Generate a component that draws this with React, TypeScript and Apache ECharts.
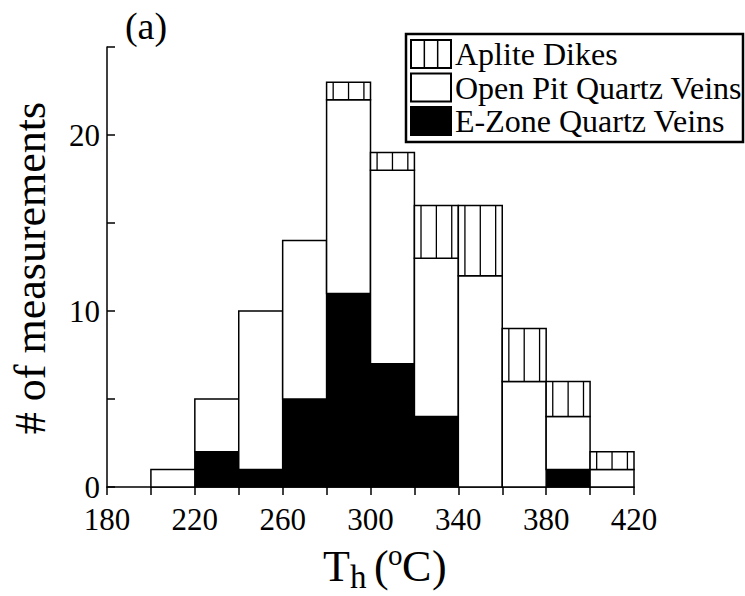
import React, { useEffect, useRef } from "react";
import * as echarts from "echarts";

// Histogram bins (lower edge, °C) and bin width
const binStart = [200, 220, 240, 260, 280, 300, 320, 340, 360, 380, 400];
const binWidth = 20;
// Counts per bin for each group (stacked bottom to top)
const eZone = [0, 2, 1, 5, 11, 7, 4, 0, 0, 1, 0];
const openPit = [1, 3, 9, 9, 11, 11, 9, 12, 6, 3, 1];
const aplite = [0, 0, 0, 0, 1, 1, 3, 4, 3, 2, 1];
// Tick labels
const xTickLabels = [180, 220, 260, 300, 340, 380, 420];
const yTickLabels = [0, 10, 20];
const seriesNames = ["Aplite Dikes", "Open Pit Quartz Veins", "E-Zone Quartz Veins"];

const FONT = "'Liberation Serif', 'Times New Roman', serif";

function buildStack(values: number[], bases: number[]) {
  return values.map((v, i) => [binStart[i], binStart[i] + binWidth, bases[i], bases[i] + v]);
}

export default function App() {
  const ref = useRef<HTMLDivElement>(null);

  useEffect(() => {
    if (!ref.current) return;
    const chart = echarts.init(ref.current, undefined, { renderer: "svg" });

    const zeros = binStart.map(() => 0);
    const base2 = eZone.map((v) => v);
    const base3 = eZone.map((v, i) => v + openPit[i]);
    const eData = buildStack(eZone, zeros);
    const oData = buildStack(openPit, base2);
    const aData = buildStack(aplite, base3);

    const makeRender = (kind: "black" | "white" | "hatch") => (params: any, api: any) => {
      const x0 = api.value(0), x1 = api.value(1), y0 = api.value(2), y1 = api.value(3);
      if (!(y1 > y0)) return { type: "group", children: [] };
      const p0 = api.coord([x0, y0]);
      const p1 = api.coord([x1, y1]);
      const w = p1[0] - p0[0];
      const h = p0[1] - p1[1];
      const children: any[] = [
        {
          type: "rect",
          shape: { x: p0[0], y: p1[1], width: w, height: h },
          style: { fill: kind === "black" ? "#000" : "#fff", stroke: "#000", lineWidth: 1.5 },
        },
      ];
      if (kind === "hatch") {
        [0.15, 0.5, 0.85].forEach((f) => {
          children.push({
            type: "line",
            shape: { x1: p0[0] + f * w, y1: p1[1], x2: p0[0] + f * w, y2: p0[1] },
            style: { stroke: "#000", lineWidth: 1.3 },
          });
        });
      }
      return { type: "group", children };
    };

    const legendRows = [
      { name: seriesNames[0], kind: "hatch" },
      { name: seriesNames[1], kind: "white" },
      { name: seriesNames[2], kind: "black" },
    ];
    const legendChildren: any[] = [
      { type: "rect", shape: { x: 406, y: 34, width: 337, height: 108 }, style: { fill: "#fff", stroke: "#000", lineWidth: 2.5 } },
    ];
    legendRows.forEach((r, i) => {
      const y = 40 + i * 33.5;
      legendChildren.push({
        type: "rect",
        shape: { x: 411, y, width: 40, height: 28 },
        style: { fill: r.kind === "black" ? "#000" : "#fff", stroke: "#000", lineWidth: 2 },
      });
      if (r.kind === "hatch") {
        [1 / 3, 2 / 3].forEach((f) => {
          legendChildren.push({
            type: "line",
            shape: { x1: 411 + 40 * f, y1: y, x2: 411 + 40 * f, y2: y + 28 },
            style: { stroke: "#000", lineWidth: 1.5 },
          });
        });
      }
      legendChildren.push({
        type: "text",
        x: 455,
        y: y + 14,
        style: { text: r.name, font: `32px ${FONT}`, fill: "#000", align: "left", verticalAlign: "middle" },
      });
    });

    const txt = (text: string, x: number, y: number, size: number) => ({
      type: "text",
      x,
      y,
      style: { text, font: `${size}px ${FONT}`, fill: "#000", align: "left", verticalAlign: "middle" },
    });

    chart.setOption({
      animation: false,
      backgroundColor: "#fff",
      grid: { left: 107, right: 111, top: 47, bottom: 109, containLabel: false },
      xAxis: {
        type: "value",
        min: 180,
        max: 420,
        interval: 20,
        axisLine: { show: true, lineStyle: { color: "#000", width: 1.5 } },
        axisTick: { show: true, inside: false, length: 8, lineStyle: { color: "#000", width: 1.5 } },
        axisLabel: {
          show: true,
          margin: 19,
          lineHeight: 26,
          color: "#000",
          fontFamily: FONT,
          fontSize: 31,
          formatter: (v: number) => (xTickLabels.includes(v) ? String(v) : ""),
        },
        splitLine: { show: false },
      },
      yAxis: {
        type: "value",
        min: 0,
        max: 25,
        interval: 5,
        axisLine: { show: true, lineStyle: { color: "#000", width: 1.5 } },
        axisTick: { show: true, inside: true, length: 8, lineStyle: { color: "#000", width: 1.5 } },
        axisLabel: {
          show: true,
          margin: 7,
          lineHeight: 24,
          padding: [0, 0, 6, 0],
          color: "#000",
          fontFamily: FONT,
          fontSize: 31,
          formatter: (v: number) => (yTickLabels.includes(v) ? String(v) : ""),
        },
        splitLine: { show: false },
      },
      series: [
        { type: "custom", name: seriesNames[2], renderItem: makeRender("black"), data: eData, encode: { x: [0, 1], y: [2, 3] } },
        { type: "custom", name: seriesNames[1], renderItem: makeRender("white"), data: oData, encode: { x: [0, 1], y: [2, 3] } },
        { type: "custom", name: seriesNames[0], renderItem: makeRender("hatch"), data: aData, encode: { x: [0, 1], y: [2, 3] } },
      ],
      graphic: [
        { type: "group", children: legendChildren },
        {
          type: "text",
          x: 146,
          y: 25.5,
          style: { text: "(a)", font: `38px ${FONT}`, fill: "#000", align: "center", verticalAlign: "middle" },
        },
        {
          type: "text",
          x: 30,
          y: 268,
          rotation: Math.PI / 2,
          style: { text: "# of measurements", font: `44px ${FONT}`, fill: "#000", align: "center", verticalAlign: "middle" },
        },
        {
          type: "group",
          children: [
            txt("T", 323, 566, 44),
            txt("h", 350, 577, 33),
            txt("(", 374, 566, 44),
            txt("o", 388, 555, 29),
            txt("C", 402, 566, 44),
            txt(")", 432, 566, 44),
          ],
        },
      ],
    });

    return () => chart.dispose();
  }, []);

  return (
    <div
      ref={ref}
      style={{ position: "fixed", left: 0, top: 0, width: 745, height: 596, background: "#fff" }}
    />
  );
}
